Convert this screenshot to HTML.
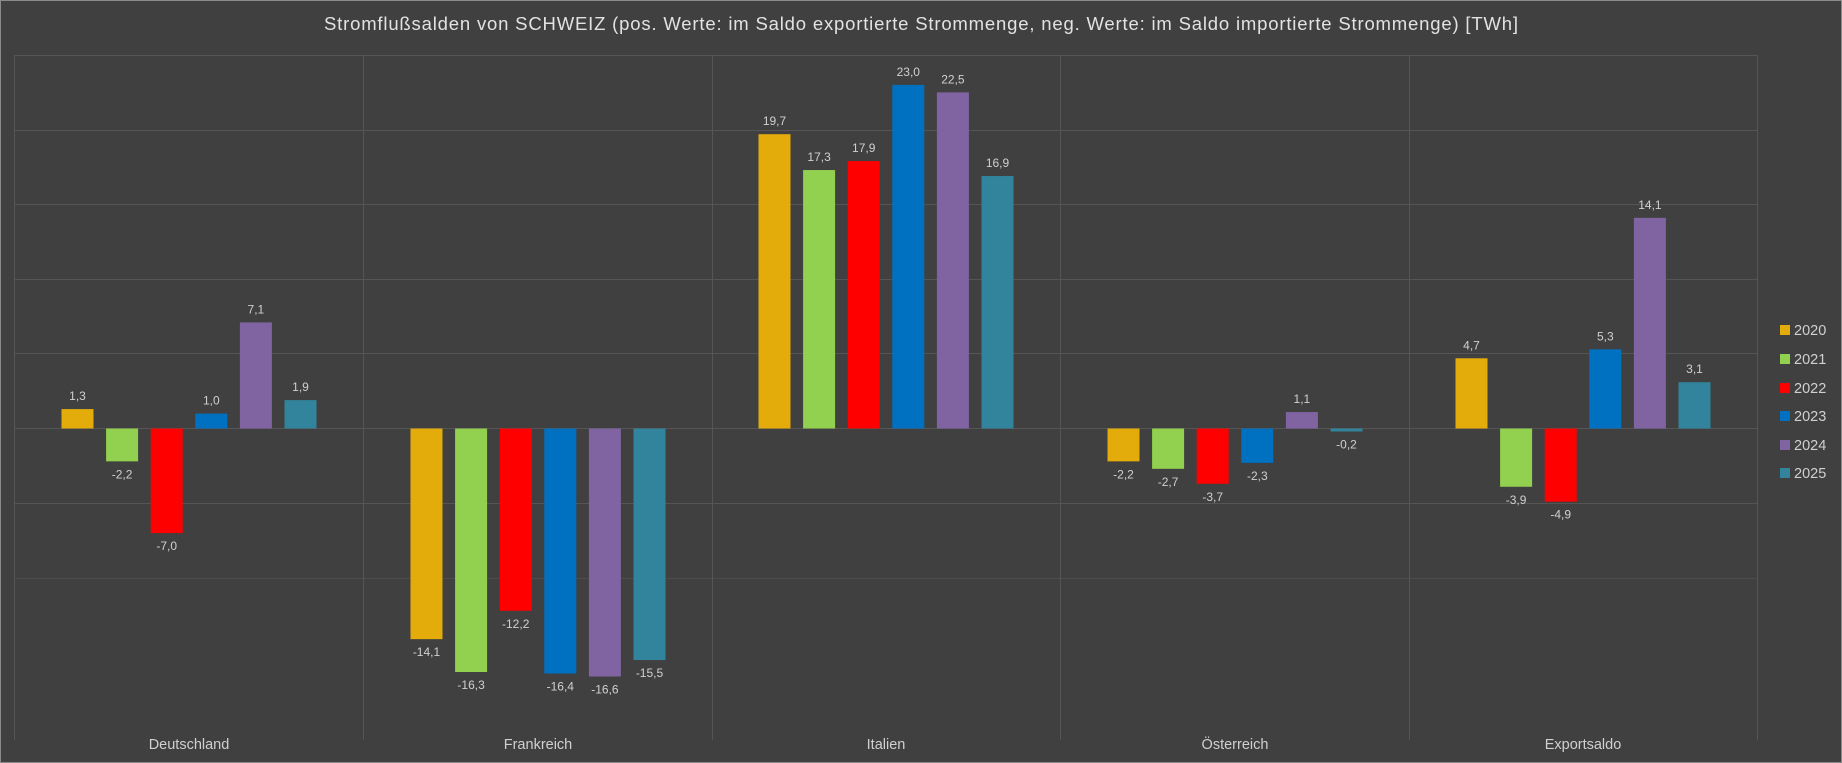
<!DOCTYPE html>
<html><head><meta charset="utf-8"><style>
html,body{margin:0;padding:0;background:#404040;}
svg{display:block;}
text{font-family:"Liberation Sans","DejaVu Sans",sans-serif;}
</style></head><body>
<svg width="1842" height="763" viewBox="0 0 1842 763" xmlns="http://www.w3.org/2000/svg">
<rect x="0" y="0" width="1842" height="763" fill="#404040"/>
<rect x="0.5" y="0.5" width="1841" height="762" fill="none" stroke="#8a8a8a" stroke-width="1"/>
<text x="324" y="30" fill="#e2e2e2" font-size="18.5" textLength="1194" lengthAdjust="spacing">Stromflußsalden von SCHWEIZ (pos. Werte: im Saldo exportierte Strommenge, neg. Werte: im Saldo importierte Strommenge)  [TWh]</text>
<g stroke="#555555" stroke-width="1">
<line x1="14" y1="55.5" x2="1757" y2="55.5"/>
<line x1="14" y1="130.5" x2="1757" y2="130.5"/>
<line x1="14" y1="204.5" x2="1757" y2="204.5"/>
<line x1="14" y1="279.5" x2="1757" y2="279.5"/>
<line x1="14" y1="353.5" x2="1757" y2="353.5"/>
<line x1="14" y1="428.5" x2="1757" y2="428.5"/>
<line x1="14" y1="503.5" x2="1757" y2="503.5"/>
<line x1="14" y1="578.5" x2="1757" y2="578.5" stroke="#4c4c4c"/>
<line x1="14.5" y1="55" x2="14.5" y2="740"/>
<line x1="363.5" y1="55" x2="363.5" y2="740"/>
<line x1="712.5" y1="55" x2="712.5" y2="740"/>
<line x1="1060.5" y1="55" x2="1060.5" y2="740"/>
<line x1="1409.5" y1="55" x2="1409.5" y2="740"/>
<line x1="1757.5" y1="55" x2="1757.5" y2="740"/>
</g>
<g id="bars"></g>
<g font-size="14.5" fill="#d0d0d0" text-anchor="middle">
<text x="189" y="749">Deutschland</text>
<text x="538" y="749">Frankreich</text>
<text x="886" y="749">Italien</text>
<text x="1235" y="749">Österreich</text>
<text x="1583" y="749">Exportsaldo</text>
</g>
<g font-size="14.5" fill="#d0d0d0">
<rect x="1780" y="325" width="10" height="10" fill="#e3ac0b"/><text x="1794" y="335">2020</text>
<rect x="1780" y="354" width="10" height="10" fill="#92d050"/><text x="1794" y="364">2021</text>
<rect x="1780" y="383" width="10" height="10" fill="#ff0000"/><text x="1794" y="393">2022</text>
<rect x="1780" y="411" width="10" height="10" fill="#0070c0"/><text x="1794" y="421">2023</text>
<rect x="1780" y="440" width="10" height="10" fill="#8064a2"/><text x="1794" y="450">2024</text>
<rect x="1780" y="468" width="10" height="10" fill="#31849b"/><text x="1794" y="478">2025</text>
</g>
<script>
(function(){
var data=[[1.3,-2.2,-7.0,1.0,7.1,1.9],[-14.1,-16.3,-12.2,-16.4,-16.6,-15.5],[19.7,17.3,17.9,23.0,22.5,16.9],[-2.2,-2.7,-3.7,-2.3,1.1,-0.2],[4.7,-3.9,-4.9,5.3,14.1,3.1]];
var cols=["#e3ac0b","#92d050","#ff0000","#0070c0","#8064a2","#31849b"];
var centers=[189,538,886,1235,1583];var zero=428.5,k=14.94;
var ns="http://www.w3.org/2000/svg";var g=document.getElementById("bars");
data.forEach(function(row,c){row.forEach(function(v,i){
var cx=centers[c]+(i-2.5)*44.6;var h=Math.abs(v)*k;var y=v>=0?zero-h:zero;
var r=document.createElementNS(ns,"rect");r.setAttribute("x",cx-16);r.setAttribute("y",y);r.setAttribute("width",32);r.setAttribute("height",Math.max(h,2));r.setAttribute("fill",cols[i]);g.appendChild(r);
var t=document.createElementNS(ns,"text");t.setAttribute("x",cx);t.setAttribute("y",v>=0?y-9:zero+h+17);t.setAttribute("fill","#d0d0d0");t.setAttribute("font-size","12");t.setAttribute("text-anchor","middle");t.textContent=v.toFixed(1).replace(".",",");g.appendChild(t);
});});
})();
</script>
</svg>
</body></html>
